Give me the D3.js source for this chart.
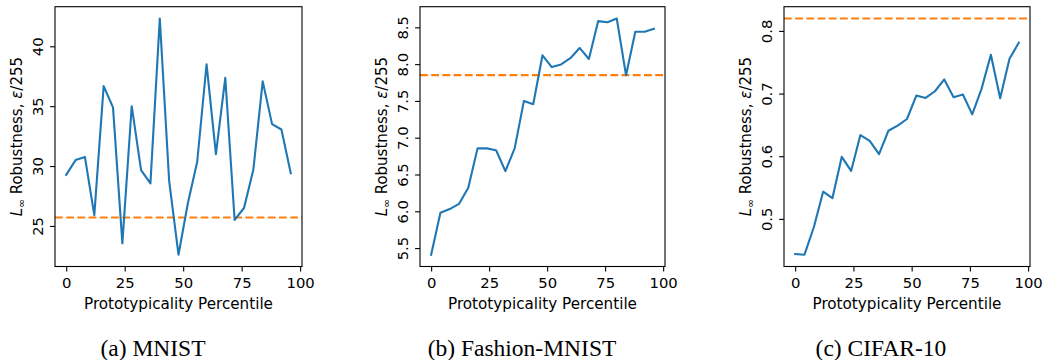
<!DOCTYPE html>
<html>
<head>
<meta charset="utf-8">
<script src="https://cdn.jsdelivr.net/npm/d3@7"></script>
<style>
  body { margin: 0; background: #fff; }
  svg text { font-family: "DejaVu Sans", sans-serif; }
</style>
</head>
<body>
<svg id="chart" width="1043" height="360"></svg>
<script>
// data
var percentiles = [0, 4, 8, 12, 16, 20, 24, 28, 32, 36, 40, 44, 48, 52, 56, 60, 64, 68, 72, 76, 80, 84, 88, 92, 96];

var mnist = [29.27, 30.5, 30.75, 25.9, 36.68, 34.9, 23.55, 35.0, 29.66, 28.55, 42.32, 28.77, 22.6,
  26.9, 30.36, 38.5, 31.0, 37.37, 25.5, 26.5, 29.7, 37.07, 33.5, 33.05, 29.4];
var mnistBase = 25.7;

var fashion = [5.41, 5.98, 6.03, 6.1, 6.32, 6.855, 6.855, 6.83, 6.545, 6.855, 7.5, 7.455, 8.12,
  7.96, 7.995, 8.08, 8.22, 8.07, 8.585, 8.57, 8.62, 7.85, 8.44, 8.44, 8.48];
var fashionBase = 7.85;

var cifar = [0.4439, 0.4428, 0.4866, 0.5433, 0.5332, 0.599, 0.5765, 0.6337, 0.6246, 0.6032, 0.6406,
  0.6487, 0.6594, 0.6968, 0.693, 0.7037, 0.7225, 0.6941, 0.6984, 0.6668, 0.7075, 0.762, 0.6925, 0.7556, 0.7813];
var cifarBase = 0.8198;

var xTicks = [0, 25, 50, 75, 100];
var mnistTicks = [25, 30, 35, 40];
var fashionTicks = [5.5, 6.0, 6.5, 7.0, 7.5, 8.0, 8.5];
var cifarTicks = [0.5, 0.6, 0.7, 0.8];

var captions = ["(a) MNIST", "(b) Fashion-MNIST", "(c) CIFAR-10"];

(function() {
  var svg = d3.select("#chart");
  var top = 6.7, bottom = 266.5;

  var panels = [
    { values: mnist, base: mnistBase, ticks: mnistTicks, fmt: d3.format("d"), left: 55, right: 302, capX: 153 },
    { values: fashion, base: fashionBase, ticks: fashionTicks, fmt: d3.format(".1f"), left: 420, right: 665, capX: 522 },
    { values: cifar, base: cifarBase, ticks: cifarTicks, fmt: d3.format(".1f"), left: 784, right: 1030, capX: 881 }
  ];

  // matplotlib style 5% margins
  function padded(ext) {
    var m = (ext[1] - ext[0]) * 0.05;
    return [ext[0] - m, ext[1] + m];
  }

  panels.forEach(function(p, i) {
    var g = svg.append("g");

    var x = d3.scaleLinear()
      .domain(padded(d3.extent(percentiles)))
      .range([p.left, p.right]);

    var y = d3.scaleLinear()
      .domain(padded(d3.extent(p.values.concat([p.base]))))
      .range([bottom, top]);

    // baseline (dashed)
    g.append("line")
      .attr("x1", p.left).attr("x2", p.right)
      .attr("y1", y(p.base)).attr("y2", y(p.base))
      .attr("stroke", "#ff7f0e")
      .attr("stroke-width", 2.1)
      .attr("stroke-dasharray", "7.8,3.4");

    var line = d3.line()
      .x(function(d, j) { return x(percentiles[j]); })
      .y(function(d) { return y(d); });

    g.append("path")
      .datum(p.values)
      .attr("d", line)
      .attr("fill", "none")
      .attr("stroke", "#1f77b4")
      .attr("stroke-width", 2.1)
      .attr("stroke-linejoin", "round")
      .attr("stroke-linecap", "square");

    // x axis
    var gx = g.append("g")
      .attr("transform", "translate(0," + bottom + ")")
      .call(d3.axisBottom(x).tickValues(xTicks).tickSize(4.9).tickSizeOuter(0).tickPadding(6.5));
    gx.select(".domain").remove();
    gx.selectAll("line").attr("stroke", "#000").attr("stroke-width", 1.1);
    gx.selectAll("text")
      .attr("font-size", "14.8px")
      .attr("font-family", "DejaVu Sans")
      .attr("fill", "#000");

    // y axis, rotated labels
    var gy = g.append("g")
      .attr("transform", "translate(" + p.left + ",0)")
      .call(d3.axisLeft(y).tickValues(p.ticks).tickFormat(p.fmt).tickSize(4.9).tickSizeOuter(0));
    gy.select(".domain").remove();
    gy.selectAll("line").attr("stroke", "#000").attr("stroke-width", 1.1);
    gy.selectAll("text")
      .attr("x", null).attr("dy", null)
      .attr("text-anchor", "middle")
      .attr("transform", "translate(-12.5,0) rotate(-90)")
      .attr("font-size", "14.8px")
      .attr("font-family", "DejaVu Sans")
      .attr("fill", "#000");

    // spines
    g.append("rect")
      .attr("x", p.left).attr("y", top)
      .attr("width", p.right - p.left).attr("height", bottom - top)
      .attr("fill", "none")
      .attr("stroke", "#000")
      .attr("stroke-width", 1.1);

    // axis labels
    g.append("text")
      .attr("x", (p.left + p.right) / 2)
      .attr("y", bottom + 42)
      .attr("text-anchor", "middle")
      .attr("font-size", "15.2px")
      .text("Prototypicality Percentile");

    var yl = g.append("text")
      .attr("transform", "translate(" + (p.left - 33.3) + "," + ((top + bottom) / 2) + ") rotate(-90)")
      .attr("text-anchor", "middle")
      .attr("font-size", "15px");
    yl.append("tspan").attr("font-style", "italic").text("L");
    yl.append("tspan").attr("font-size", "10.5px").attr("dy", 3).text("\u221E");
    yl.append("tspan").attr("dy", -3).text(" Robustness, ");
    yl.append("tspan").attr("font-style", "italic").text("\u03B5");
    yl.append("tspan").text("/255");

    // caption
    svg.append("text")
      .attr("x", p.capX)
      .attr("y", 356)
      .attr("text-anchor", "middle")
      .style("font-family", "'Liberation Serif', 'Times New Roman', serif")
      .attr("font-size", "23.5px")
      .text(captions[i]);
  });
})();
</script>
</body>
</html>
